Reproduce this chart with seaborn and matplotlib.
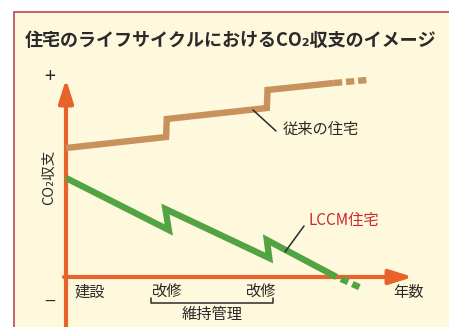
import numpy as np
import pandas as pd
import seaborn as sns
import matplotlib
matplotlib.use("Agg")
import matplotlib.pyplot as plt
from matplotlib.patches import Rectangle

sns.set_theme(style="white")
plt.rcParams['font.family'] = ['Noto Sans CJK JP', 'DejaVu Sans']

# ---------------- data ----------------
title = "住宅のライフサイクルにおけるCO₂収支のイメージ"
y_label = "CO₂収支"
x_label = "年数"
series_names = ["従来の住宅", "LCCM住宅"]
event_labels = ["建設", "改修", "改修"]
event_years = [0, 30, 58]
bracket_label = "維持管理"
bracket_years = [25.2, 61.4]

conv_years = [0, 29.7, 29.9, 59.6, 59.8, 79.5]
conv_co2 = [129, 140, 158, 169, 187, 194]
conv_future_years = [79.5, 89.3]
conv_future_co2 = [194, 197]

lccm_years = [0, 30.5, 29.5, 60.3, 59.6, 80.3]
lccm_co2 = [99, 47, 68, 19, 37, 0]
lccm_future_years = [80.3, 88.3]
lccm_future_co2 = [0, -12]

# ---------------- colours ----------------
C_CONV = "#C9925C"
C_LCCM = "#52A443"
C_AXIS = "#E8622C"
C_BG = "#FEF8DD"
C_FRAME = "#B8475A"
C_RED = "#C8282E"
C_TEXT = "#2A2A2A"

W, H = 449, 327
fig = plt.figure(figsize=(W / 100, H / 100), dpi=100)
fig.patch.set_facecolor("white")
fig.patches.append(Rectangle((14 / W, -0.1), 1.0, 1 - 12 / H + 0.1,
                             transform=fig.transFigure, facecolor=C_BG,
                             edgecolor=C_FRAME, lw=1.2, zorder=-1))

ax = fig.add_axes([0, 0, 1, 1])
ax.patch.set_alpha(0)
KX = 3.37  # px per year
ax.set_xlim(-66 / KX, (W - 66) / KX)
ax.set_ylim(277 - H, 277)
ax.axis("off")


def d(xp, yp):
    return (xp - 66) / KX, 277 - yp


df_conv = pd.DataFrame({"year": conv_years, "co2": conv_co2})
df_conv_f = pd.DataFrame({"year": conv_future_years, "co2": conv_future_co2})
df_lccm = pd.DataFrame({"year": lccm_years, "co2": lccm_co2})
df_lccm_f = pd.DataFrame({"year": lccm_future_years, "co2": lccm_future_co2})

# axes arrows
astyle = "-|>,head_length=0.7,head_width=0.22"
ax.annotate("", xy=d(66, 79), xytext=d(66, 330),
            arrowprops=dict(arrowstyle=astyle, mutation_scale=20, lw=3.0,
                            color=C_AXIS, shrinkA=0, shrinkB=0), zorder=3)
ax.annotate("", xy=d(413, 277), xytext=d(64, 277),
            arrowprops=dict(arrowstyle=astyle, mutation_scale=20, lw=3.0,
                            color=C_AXIS, shrinkA=0, shrinkB=0), zorder=3)

lw = 4.6
sns.lineplot(data=df_conv, x="year", y="co2", sort=False, estimator=None,
             color=C_CONV, lw=lw, ax=ax, zorder=4,
             solid_joinstyle="miter", solid_capstyle="butt")
sns.lineplot(data=df_conv_f, x="year", y="co2", sort=False, estimator=None,
             color=C_CONV, lw=lw, ax=ax, zorder=4, dashes=False,
             linestyle=(0, (1.3, 0.6)), dash_capstyle="butt")
sns.lineplot(data=df_lccm, x="year", y="co2", sort=False, estimator=None,
             color=C_LCCM, lw=lw, ax=ax, zorder=5,
             solid_joinstyle="miter", solid_capstyle="butt")
sns.lineplot(data=df_lccm_f, x="year", y="co2", sort=False, estimator=None,
             color=C_LCCM, lw=lw, ax=ax, zorder=5, dashes=False,
             linestyle=(1.2, (1.2, 0.75)), dash_capstyle="butt")
ax.set_xlim(-66 / KX, (W - 66) / KX)
ax.set_ylim(277 - H, 277)
ax.axis("off")

# title
ax.text(*d(25, 41), title, fontsize=13, fontweight="bold", color=C_TEXT,
        ha="left", va="center")

# axis signs & labels
ax.text(*d(50, 77), "+", fontsize=14, color=C_TEXT, ha="center", va="center")
ax.text(*d(50, 302), "−", fontsize=14, color=C_TEXT, ha="center", va="center")
ax.text(*d(49, 177), y_label, fontsize=10.5, color=C_TEXT, rotation=90,
        ha="center", va="center")
ax.text(*d(409, 292), x_label, fontsize=11, color=C_TEXT, ha="center", va="center")

# series labels with leader lines
ax.text(*d(283, 129), series_names[0], fontsize=11, color=C_TEXT,
        ha="left", va="center")
ax.plot(*zip(d(253, 110), d(276, 131)), color=C_TEXT, lw=1.1, zorder=6)
ax.text(*d(309, 221), series_names[1], fontsize=11, color=C_RED,
        ha="left", va="center")
ax.plot(*zip(d(285, 252), d(304, 226)), color=C_TEXT, lw=1.1, zorder=6)

# event labels
ax.text(event_years[0] + 2.4, 277 - 292, event_labels[0], fontsize=11,
        color=C_TEXT, ha="left", va="center")
for yr, lab in zip(event_years[1:], event_labels[1:]):
    ax.text(yr, 277 - 292, lab, fontsize=11, color=C_TEXT,
            ha="center", va="center")

# bracket
bx0, bx1 = bracket_years
by = 277 - 303
ax.plot([bx0, bx0, bx1, bx1], [by + 5, by, by, by + 5], color=C_TEXT, lw=1.1)
ax.text((bx0 + bx1) / 2, 277 - 315, bracket_label, fontsize=11, color=C_TEXT,
        ha="center", va="center")

fig.savefig("out.png", dpi=100)
